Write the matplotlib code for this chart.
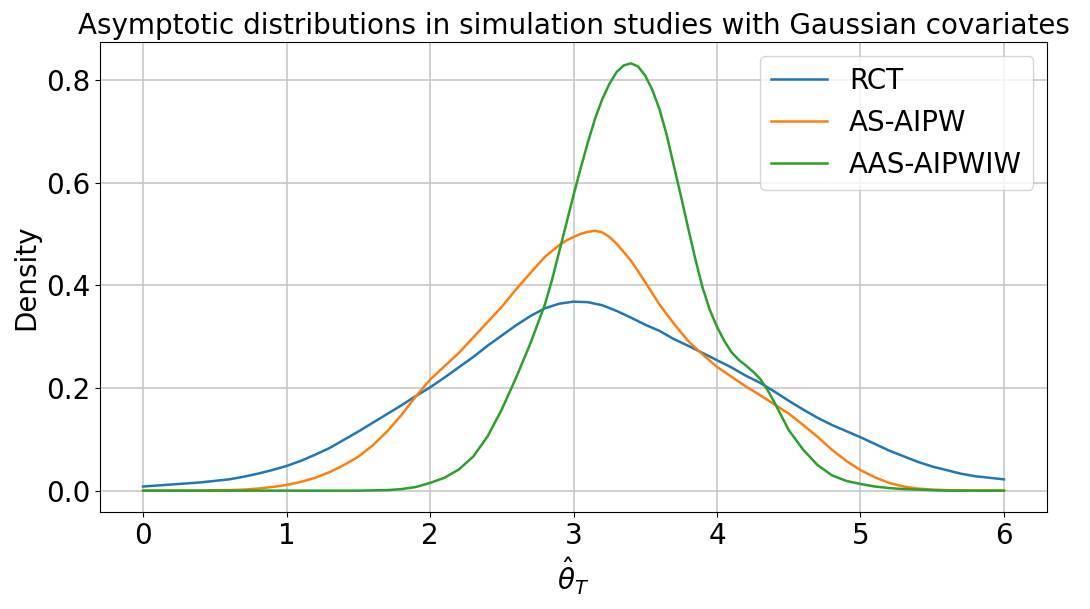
import numpy as np
import matplotlib
matplotlib.use("Agg")
import matplotlib.pyplot as plt

x = np.round(np.arange(0, 6.0001, 0.1), 2)

rct = [0.008, 0.010, 0.012, 0.014, 0.016, 0.019, 0.022, 0.027, 0.033, 0.040,
       0.048, 0.058, 0.070, 0.083, 0.099, 0.115, 0.132, 0.149, 0.166, 0.184,
       0.201, 0.220, 0.240, 0.260, 0.282, 0.302, 0.322, 0.340, 0.355, 0.364,
       0.368, 0.367, 0.361, 0.350, 0.337, 0.323, 0.311, 0.295, 0.282, 0.268,
       0.254, 0.240, 0.224, 0.210, 0.193, 0.175, 0.158, 0.142, 0.128, 0.116,
       0.104, 0.091, 0.078, 0.067, 0.056, 0.047, 0.040, 0.033, 0.028, 0.025,
       0.022]

x_orange = [0.0, 0.1, 0.2, 0.3, 0.4, 0.5, 0.6, 0.7, 0.8, 0.9,
            1.0, 1.1, 1.2, 1.3, 1.4, 1.5, 1.6, 1.7, 1.8, 1.9,
            2.0, 2.1, 2.2, 2.3, 2.4, 2.5, 2.6, 2.7, 2.8, 2.9,
            2.95, 3.0, 3.05, 3.1, 3.15, 3.2, 3.25, 3.3, 3.4, 3.5,
            3.6, 3.7, 3.8, 3.9, 4.0, 4.1, 4.2, 4.3, 4.4, 4.5,
            4.6, 4.7, 4.8, 4.9, 5.0, 5.1, 5.2, 5.3, 5.4, 5.5,
            5.6, 5.7, 5.8, 5.9, 6.0]
as_aipw = [0.000, 0.000, 0.000, 0.000, 0.000, 0.001, 0.001, 0.002, 0.004, 0.007,
           0.011, 0.017, 0.025, 0.036, 0.050, 0.066, 0.088, 0.115, 0.147, 0.183,
           0.216, 0.242, 0.268, 0.298, 0.328, 0.358, 0.392, 0.424, 0.455, 0.478,
           0.487, 0.494, 0.500, 0.504, 0.506, 0.503, 0.494, 0.481, 0.448, 0.406,
           0.362, 0.325, 0.291, 0.265, 0.241, 0.222, 0.203, 0.186, 0.168, 0.150,
           0.128, 0.105, 0.080, 0.058, 0.040, 0.026, 0.015, 0.008, 0.004, 0.002,
           0.001, 0.0005, 0.0002, 0.0001, 0.0000]

# AAS-AIPWIW is sampled more finely around its sharp peak
x_green = [0.0, 0.5, 1.0, 1.5, 1.6, 1.7, 1.8, 1.9, 2.0, 2.1, 2.2, 2.3, 2.4, 2.5,
           2.6, 2.7, 2.8, 2.85, 2.9, 2.95, 3.0, 3.05, 3.1, 3.15, 3.2, 3.25, 3.3,
           3.35, 3.4, 3.45, 3.5, 3.55, 3.6, 3.65, 3.7, 3.75, 3.8, 3.85, 3.9, 3.95,
           4.0, 4.05, 4.1, 4.15, 4.2, 4.25, 4.3, 4.35, 4.4, 4.45, 4.5, 4.6, 4.7,
           4.8, 4.9, 5.0, 5.1, 5.2, 5.3, 5.4, 5.5, 5.6, 6.0]
aas_aipwiw = [0.000, 0.000, 0.000, 0.000, 0.0005, 0.001, 0.003, 0.007, 0.015, 0.025,
              0.041, 0.066, 0.105, 0.158, 0.220, 0.287, 0.362, 0.410, 0.465, 0.520,
              0.575, 0.628, 0.678, 0.724, 0.762, 0.792, 0.815, 0.828, 0.832, 0.826,
              0.808, 0.780, 0.742, 0.692, 0.632, 0.572, 0.510, 0.450, 0.395, 0.352,
              0.319, 0.292, 0.270, 0.255, 0.244, 0.232, 0.218, 0.197, 0.172, 0.145,
              0.118, 0.080, 0.050, 0.030, 0.019, 0.013, 0.008, 0.005, 0.003, 0.002,
              0.001, 0.000, 0.000]

series = [("RCT", x, rct), ("AS-AIPW", x_orange, as_aipw), ("AAS-AIPWIW", x_green, aas_aipwiw)]

fig = plt.figure(figsize=(10.9, 6.09), dpi=100)
ax = fig.add_axes([100/1090, 1 - 512/609, 947/1090, 470/609])
for name, xs, vals in series:
    ax.plot(xs, vals, label=name, lw=1.8)

ax.set_xticks(range(0, 7))
ax.set_yticks([0.0, 0.2, 0.4, 0.6, 0.8])
ax.tick_params(labelsize=20)
ax.grid(True, color="#c8c8c8", lw=1.2)
ax.set_xlabel(r"$\hat{\theta}_T$", fontsize=20)
ax.set_ylabel("Density", fontsize=20)
ax.set_title("Asymptotic distributions in simulation studies with Gaussian covariates", fontsize=20)
ax.legend(fontsize=20, loc="upper right")
fig.savefig("out.png", dpi=100)
